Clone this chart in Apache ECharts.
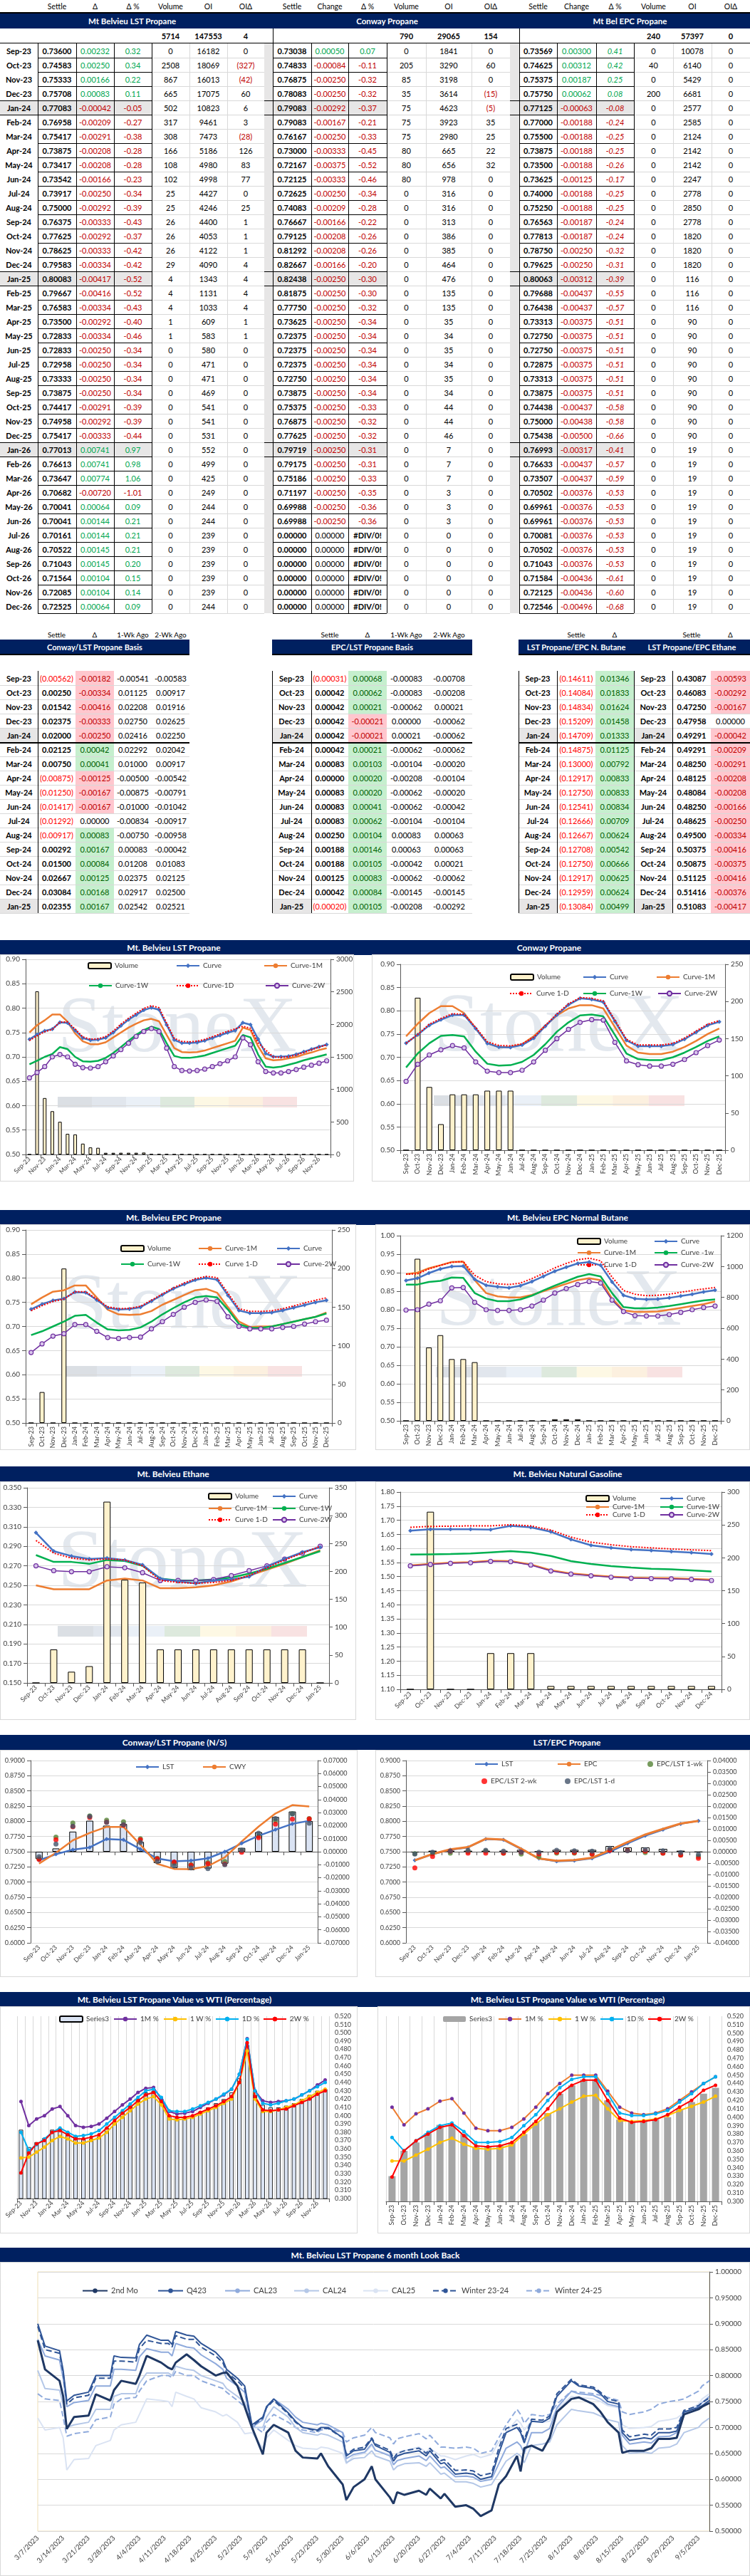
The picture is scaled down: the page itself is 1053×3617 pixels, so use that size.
<!DOCTYPE html>
<html><head><meta charset="utf-8">
<script src="https://cdn.jsdelivr.net/npm/echarts@6/dist/echarts.min.js"></script>
<style>
body{margin:0;background:#fff;width:1053px;height:3617px;position:relative;font-family:Lato,"Liberation Sans",sans-serif;overflow:hidden}
.c{position:absolute;box-sizing:border-box;display:flex;align-items:center;justify-content:center;white-space:nowrap;font-size:11px;line-height:1;color:#000}
</style></head><body>
<script>
// ================= DATA =================
const months40=['Sep-23','Oct-23','Nov-23','Dec-23','Jan-24','Feb-24','Mar-24','Apr-24','May-24','Jun-24','Jul-24','Aug-24','Sep-24','Oct-24','Nov-24','Dec-24','Jan-25','Feb-25','Mar-25','Apr-25','May-25','Jun-25','Jul-25','Aug-25','Sep-25','Oct-25','Nov-25','Dec-25','Jan-26','Feb-26','Mar-26','Apr-26','May-26','Jun-26','Jul-26','Aug-26','Sep-26','Oct-26','Nov-26','Dec-26'];
const months28=months40.slice(0,28), months17=months40.slice(0,17), months16=months40.slice(0,16);

// Mt Belvieu LST Propane table
const lstTotals=[5714,147553,4];
const lstSettle=[0.73600,0.74583,0.75333,0.75708,0.77083,0.76958,0.75417,0.73875,0.73417,0.73542,0.73917,0.75000,0.76375,0.77625,0.78625,0.79583,0.80083,0.79667,0.76583,0.73500,0.72833,0.72833,0.72958,0.73333,0.73875,0.74417,0.74958,0.75417,0.77013,0.76613,0.73647,0.70682,0.70041,0.70041,0.70161,0.70522,0.71043,0.71564,0.72085,0.72525];
const lstChg=[0.00232,0.00250,0.00166,0.00083,-0.00042,-0.00209,-0.00291,-0.00208,-0.00208,-0.00166,-0.00250,-0.00292,-0.00333,-0.00292,-0.00333,-0.00334,-0.00417,-0.00416,-0.00334,-0.00292,-0.00334,-0.00250,-0.00250,-0.00250,-0.00250,-0.00291,-0.00292,-0.00333,0.00741,0.00741,0.00774,-0.00720,0.00064,0.00144,0.00144,0.00145,0.00145,0.00104,0.00104,0.00064];
const lstPct=[0.32,0.34,0.22,0.11,-0.05,-0.27,-0.38,-0.28,-0.28,-0.23,-0.34,-0.39,-0.43,-0.37,-0.42,-0.42,-0.52,-0.52,-0.43,-0.40,-0.46,-0.34,-0.34,-0.34,-0.34,-0.39,-0.39,-0.44,0.97,0.98,1.06,-1.01,0.09,0.21,0.21,0.21,0.20,0.15,0.14,0.09];
const lstVol=[0,2508,867,665,502,317,308,166,108,102,25,25,26,26,26,29,4,4,4,1,1,0,0,0,0,0,0,0,0,0,0,0,0,0,0,0,0,0,0,0];
const lstOI=[16182,18069,16013,17075,10823,9461,7473,5186,4980,4998,4427,4246,4400,4053,4122,4090,1343,1131,1033,609,583,580,471,471,469,541,541,531,552,499,425,249,244,244,239,239,239,239,239,244];
const lstOIChg=[0,-327,-42,60,6,3,-28,126,83,77,0,25,1,1,1,4,4,4,4,1,1,0,0,0,0,0,0,0,0,0,0,0,0,0,0,0,0,0,0,0];

// Conway Propane table
const conTotals=[790,29065,154];
const conSettle=[0.73038,0.74833,0.76875,0.78083,0.79083,0.79083,0.76167,0.73000,0.72167,0.72125,0.72625,0.74083,0.76667,0.79125,0.81292,0.82667,0.82438,0.81875,0.77750,0.73625,0.72375,0.72375,0.72375,0.72750,0.73875,0.75375,0.76875,0.77625,0.79719,0.79175,0.75186,0.71197,0.69988,0.69988,0,0,0,0,0,0];
const conChg=[0.00050,-0.00084,-0.00250,-0.00250,-0.00292,-0.00167,-0.00250,-0.00333,-0.00375,-0.00333,-0.00250,-0.00209,-0.00166,-0.00208,-0.00208,-0.00166,-0.00250,-0.00250,-0.00250,-0.00250,-0.00250,-0.00250,-0.00250,-0.00250,-0.00250,-0.00250,-0.00250,-0.00250,-0.00250,-0.00250,-0.00250,-0.00250,-0.00250,-0.00250,0,0,0,0,0,0];
const conPct=[0.07,-0.11,-0.32,-0.32,-0.37,-0.21,-0.33,-0.45,-0.52,-0.46,-0.34,-0.28,-0.22,-0.26,-0.26,-0.20,-0.30,-0.30,-0.32,-0.34,-0.34,-0.34,-0.34,-0.34,-0.34,-0.33,-0.32,-0.32,-0.31,-0.31,-0.33,-0.35,-0.36,-0.36,null,null,null,null,null,null];
const conVol=[0,205,85,35,75,75,75,80,80,80,0,0,0,0,0,0,0,0,0,0,0,0,0,0,0,0,0,0,0,0,0,0,0,0,0,0,0,0,0,0];
const conOI=[1841,3290,3198,3614,4623,3923,2980,665,656,978,316,316,313,386,385,464,476,135,135,35,34,35,34,35,34,44,44,46,7,7,7,3,3,3,0,0,0,0,0,0];
const conOIChg=[0,60,0,-15,-5,35,25,22,32,0,0,0,0,0,0,0,0,0,0,0,0,0,0,0,0,0,0,0,0,0,0,0,0,0,0,0,0,0,0,0];

// Mt Bel EPC Propane table
const epcTotals=[240,57397,0];
const epcSettle=[0.73569,0.74625,0.75375,0.75750,0.77125,0.77000,0.75500,0.73875,0.73500,0.73625,0.74000,0.75250,0.76563,0.77813,0.78750,0.79625,0.80063,0.79688,0.76438,0.73313,0.72750,0.72750,0.72875,0.73313,0.73875,0.74438,0.75000,0.75438,0.76993,0.76633,0.73507,0.70502,0.69961,0.69961,0.70081,0.70502,0.71043,0.71584,0.72125,0.72546];
const epcChg=[0.00300,0.00312,0.00187,0.00062,-0.00063,-0.00188,-0.00188,-0.00188,-0.00188,-0.00125,-0.00188,-0.00188,-0.00187,-0.00187,-0.00250,-0.00250,-0.00312,-0.00437,-0.00437,-0.00375,-0.00375,-0.00375,-0.00375,-0.00375,-0.00375,-0.00437,-0.00438,-0.00500,-0.00317,-0.00437,-0.00437,-0.00376,-0.00376,-0.00376,-0.00376,-0.00376,-0.00376,-0.00436,-0.00436,-0.00496];
const epcPct=[0.41,0.42,0.25,0.08,-0.08,-0.24,-0.25,-0.25,-0.26,-0.17,-0.25,-0.25,-0.24,-0.24,-0.32,-0.31,-0.39,-0.55,-0.57,-0.51,-0.51,-0.51,-0.51,-0.51,-0.51,-0.58,-0.58,-0.66,-0.41,-0.57,-0.59,-0.53,-0.53,-0.53,-0.53,-0.53,-0.53,-0.61,-0.60,-0.68];
const epcVol=[0,40,0,200,0,0,0,0,0,0,0,0,0,0,0,0,0,0,0,0,0,0,0,0,0,0,0,0,0,0,0,0,0,0,0,0,0,0,0,0];
const epcOI=[10078,6140,5429,6681,2577,2585,2124,2142,2142,2247,2778,2850,2778,1820,1820,1820,116,116,116,90,90,90,90,90,90,90,90,90,19,19,19,19,19,19,19,19,19,19,19,19];
const epcOIChg=[0,0,0,0,0,0,0,0,0,0,0,0,0,0,0,0,0,0,0,0,0,0,0,0,0,0,0,0,0,0,0,0,0,0,0,0,0,0,0,0];

// Basis tables
const cwBasis=[-0.00562,0.00250,0.01542,0.02375,0.02000,0.02125,0.00750,-0.00875,-0.01250,-0.01417,-0.01292,-0.00917,0.00292,0.01500,0.02667,0.03084,0.02355];
const cwBasisChg=[-0.00182,-0.00334,-0.00416,-0.00333,-0.00250,0.00042,0.00041,-0.00125,-0.00167,-0.00167,0.00000,0.00083,0.00167,0.00084,0.00125,0.00168,0.00167];
const cwBasis1W=[-0.00541,0.01125,0.02208,0.02750,0.02416,0.02292,0.01000,-0.00500,-0.00875,-0.01000,-0.00834,-0.00750,0.00083,0.01208,0.02375,0.02917,0.02542];
const cwBasis2W=[-0.00583,0.00917,0.01916,0.02625,0.02250,0.02042,0.00917,-0.00542,-0.00791,-0.01042,-0.00917,-0.00958,-0.00042,0.01083,0.02125,0.02500,0.02521];
const epBasis=[-0.00031,0.00042,0.00042,0.00042,0.00042,0.00042,0.00083,0.00000,0.00083,0.00083,0.00083,0.00250,0.00188,0.00188,0.00125,0.00042,-0.00020];
const epBasisChg=[0.00068,0.00062,0.00021,-0.00021,-0.00021,0.00021,0.00103,0.00020,0.00020,0.00041,0.00062,0.00104,0.00146,0.00105,0.00083,0.00084,0.00105];
const epBasis1W=[-0.00083,-0.00083,-0.00062,0.00000,0.00021,-0.00062,-0.00104,-0.00208,-0.00062,-0.00062,-0.00104,0.00083,0.00063,-0.00042,-0.00062,-0.00145,-0.00208];
const epBasis2W=[-0.00708,-0.00208,0.00021,-0.00062,-0.00062,-0.00062,-0.00020,-0.00104,-0.00020,-0.00042,-0.00104,0.00063,0.00063,0.00021,-0.00062,-0.00145,-0.00292];
const nbRatio=[-0.14611,-0.14084,-0.14834,-0.15209,-0.14709,-0.14875,-0.13000,-0.12917,-0.12750,-0.12541,-0.12666,-0.12667,-0.12708,-0.12750,-0.12917,-0.12959,-0.13084];
const nbRatioChg=[0.01346,0.01833,0.01624,0.01458,0.01333,0.01125,0.00792,0.00833,0.00833,0.00834,0.00709,0.00624,0.00542,0.00666,0.00625,0.00624,0.00499];
const ethRatio=[0.43087,0.46083,0.47250,0.47958,0.49291,0.49291,0.48250,0.48125,0.48084,0.48250,0.48625,0.49500,0.50375,0.50875,0.51125,0.51416,0.51083];
const ethRatioChg=[-0.00593,-0.00292,-0.00167,0.00000,-0.00042,-0.00209,-0.00291,-0.00208,-0.00208,-0.00166,-0.00250,-0.00334,-0.00416,-0.00375,-0.00416,-0.00376,-0.00417];

// Chart: Mt. Belvieu LST Propane curves
const lst1M=[.750,.765,.775,.787,.787,.772,.748,.732,.726,.726,.730,.740,.750,.760,.768,.775,.778,.773,.745,.718,.710,.709,.710,.713,.718,.723,.728,.733,.760,.755,.722,.697,.693,.694,.697,.700,.705,.709,.714,.718];
const lst1W=[.685,.692,.700,.706,.720,.716,.700,.691,.690,.692,.698,.708,.720,.733,.745,.755,.762,.757,.728,.702,.698,.698,.700,.703,.708,.713,.718,.723,.745,.740,.705,.680,.678,.680,.684,.688,.693,.697,.701,.705];
const lst2W=[.657,.668,.680,.700,.705,.700,.685,.678,.677,.680,.690,.702,.715,.728,.742,.752,.758,.752,.718,.680,.672,.671,.672,.675,.680,.686,.692,.700,.739,.725,.690,.670,.667,.667,.670,.674,.679,.683,.687,.692];
// Conway Propane curves
const con1M=[.745,.772,.795,.810,.810,.795,.762,.730,.722,.722,.728,.745,.768,.790,.805,.812,.812,.805,.765,.725,.710,.707,.707,.712,.722,.735,.750,.762];
const con1W=[.678,.708,.730,.746,.748,.745,.712,.686,.682,.683,.690,.705,.728,.755,.775,.790,.792,.788,.748,.708,.696,.694,.694,.700,.710,.722,.735,.745];
const con2W=[.648,.685,.705,.716,.725,.720,.690,.670,.667,.667,.672,.690,.715,.740,.760,.775,.781,.780,.732,.692,.684,.681,.681,.685,.695,.710,.725,.737];
// EPC Propane curves
const epc1M=[.746,.760,.772,.775,.785,.785,.760,.735,.725,.724,.725,.732,.745,.755,.765,.775,.778,.770,.740,.710,.699,.700,.700,.705,.710,.715,.720,.729];
const epc1W=[.682,.690,.700,.710,.722,.724,.708,.694,.692,.693,.698,.710,.725,.738,.750,.760,.763,.760,.735,.705,.697,.697,.700,.705,.710,.715,.720,.727];
const epc2W=[.646,.664,.680,.685,.704,.704,.690,.677,.675,.677,.678,.695,.710,.725,.740,.750,.755,.752,.720,.700,.695,.695,.695,.698,.700,.705,.710,.713];
// EPC Normal Butane
const nbVol=[0,1050,475,555,400,400,380,0,0,0,0,0,0,10,10,10,0,0,0,0,0,0,0,0,0,0,0,0];
const nbCurve=[.879,.885,.899,.910,.917,.918,.882,.866,.862,.859,.865,.876,.890,.904,.915,.925,.929,.920,.875,.839,.830,.828,.829,.832,.837,.842,.848,.853];
const nb1D=[.896,.897,.910,.920,.928,.930,.893,.876,.870,.868,.872,.884,.898,.913,.925,.935,.939,.932,.888,.852,.842,.838,.839,.842,.847,.852,.856,.860];
const nb1M=[.896,.900,.912,.920,.929,.930,.880,.845,.836,.833,.833,.840,.850,.860,.870,.880,.885,.880,.830,.798,.794,.794,.795,.800,.805,.810,.815,.822];
const nb1W=[.868,.868,.875,.878,.887,.886,.845,.830,.823,.823,.828,.838,.852,.865,.877,.889,.896,.890,.845,.807,.804,.804,.806,.810,.815,.820,.825,.828];
const nb2W=[.799,.800,.815,.824,.859,.860,.820,.800,.798,.798,.800,.810,.826,.845,.857,.868,.876,.872,.826,.795,.784,.783,.783,.787,.793,.800,.806,.810];
// Ethane
const ethVol=[0,60,20,30,325,185,180,60,60,60,60,60,60,60,60,60,0];
const ethCurve=[.304,.285,.280,.277,.278,.276,.271,.257,.254,.252,.255,.256,.259,.269,.277,.284,.289];
const eth1D=[.296,.283,.278,.276,.277,.276,.270,.255,.253,.252,.253,.255,.260,.268,.276,.283,.290];
const eth1M=[.250,.246,.246,.246,.255,.257,.255,.247,.247,.248,.250,.254,.260,.266,.272,.279,.286];
const eth1W=[.281,.274,.274,.272,.276,.275,.270,.257,.255,.255,.256,.258,.262,.267,.273,.279,.285];
const eth2W=[.270,.265,.264,.264,.269,.268,.263,.255,.255,.255,.256,.260,.265,.270,.277,.283,.290];
// Natural Gasoline
const ngVol=[0,270,0,0,55,55,55,5,5,5,5,5,5,5,5,5];
const ngCurve=[1.663,1.668,1.668,1.668,1.667,1.680,1.675,1.659,1.632,1.611,1.602,1.596,1.593,1.589,1.585,1.580];
const ng1D=[1.675,1.678,1.679,1.680,1.680,1.684,1.680,1.665,1.640,1.622,1.613,1.606,1.602,1.598,1.595,1.592];
const ng1M=[1.540,1.545,1.549,1.551,1.556,1.555,1.543,1.523,1.511,1.505,1.500,1.496,1.495,1.494,1.492,1.489];
const ng1W=[1.578,1.579,1.580,1.582,1.586,1.590,1.585,1.573,1.555,1.545,1.537,1.532,1.528,1.526,1.522,1.518];
const ng2W=[1.538,1.543,1.547,1.549,1.554,1.553,1.541,1.520,1.509,1.503,1.498,1.494,1.493,1.492,1.490,1.486];
// LST value vs WTI (40 months)
const wtiBar=[.383,.362,.368,.373,.383,.385,.380,.375,.372,.372,.375,.385,.393,.405,.412,.420,.428,.430,.420,.400,.398,.398,.400,.405,.410,.415,.420,.428,.445,.485,.430,.413,.410,.410,.412,.415,.420,.425,.430,.432];
const wti1M=[.417,.388,.396,.400,.408,.411,.400,.388,.386,.387,.390,.397,.405,.413,.420,.428,.433,.434,.420,.405,.402,.403,.405,.410,.415,.420,.425,.432,.450,.493,.430,.418,.416,.417,.418,.420,.425,.430,.437,.443];
const wti1W=[.349,.350,.356,.362,.370,.375,.372,.367,.367,.370,.373,.380,.390,.398,.406,.414,.420,.423,.413,.396,.395,.396,.398,.402,.406,.410,.415,.420,.440,.478,.420,.405,.405,.407,.410,.413,.418,.423,.428,.432];
const wti1D=[.380,.358,.365,.372,.380,.385,.380,.375,.376,.378,.382,.390,.398,.406,.414,.422,.430,.432,.422,.406,.405,.405,.408,.412,.416,.420,.426,.432,.450,.492,.430,.415,.413,.415,.418,.420,.425,.430,.435,.440];
const wti2W=[.331,.355,.366,.370,.380,.382,.377,.372,.372,.374,.377,.385,.394,.403,.410,.418,.425,.428,.417,.400,.398,.398,.400,.404,.408,.412,.417,.423,.440,.488,.423,.407,.406,.407,.408,.412,.416,.420,.426,.430];
// LST value vs WTI (28 months)
const wtbBar=[.330,.360,.370,.381,.391,.391,.380,.365,.365,.366,.370,.380,.394,.405,.428,.438,.445,.445,.420,.397,.395,.395,.397,.400,.410,.418,.428,.435];
const wtb1M=[.412,.391,.404,.410,.419,.422,.405,.387,.384,.384,.388,.398,.412,.428,.440,.450,.450,.450,.431,.412,.405,.403,.405,.410,.420,.430,.440,.448];
const wtb1W=[.348,.348,.355,.362,.370,.375,.368,.363,.362,.363,.367,.380,.392,.403,.410,.418,.425,.426,.410,.396,.395,.396,.398,.402,.408,.413,.418,.425];
const wtb1D=[.376,.360,.372,.382,.390,.393,.383,.370,.370,.371,.376,.390,.403,.420,.435,.445,.448,.448,.428,.405,.402,.402,.404,.408,.418,.428,.440,.448];
const wtb2W=[.329,.360,.372,.380,.388,.391,.378,.366,.365,.366,.370,.382,.395,.410,.428,.438,.444,.444,.420,.399,.394,.395,.397,.403,.412,.420,.432,.438];
// 6 month look back
const lbDates=['3/7','3/9','3/13','3/14','3/15','3/17','3/21','3/23','3/27','3/28','3/30','4/3','4/4','4/6','4/10','4/12','4/13','4/14','4/17','4/19','4/21','4/25','4/27','4/28','5/1','5/3','5/5','5/8','5/9','5/11','5/15','5/17','5/19','5/23','5/24','5/26','5/30','5/31','6/2','6/5','6/7','6/8','6/12','6/13','6/14','6/16','6/20','6/22','6/23','6/26','6/27','6/30','7/3','7/5','7/7','7/10','7/12','7/14','7/17','7/18','7/19','7/21','7/24','7/26','7/28','8/1','8/3','8/7','8/9','8/11','8/14','8/15','8/17','8/21','8/23','8/25','8/28','8/30','9/1','9/5','9/6','9/8'];
const lb2ndMo=[.868,.812,.790,.760,.697,.720,.723,.764,.752,.772,.790,.784,.800,.838,.825,.815,.812,.825,.841,.830,.818,.800,.805,.806,.780,.740,.700,.648,.690,.705,.690,.655,.642,.640,.650,.625,.590,.560,.585,.600,.625,.600,.565,.553,.575,.570,.578,.570,.582,.563,.572,.547,.550,.543,.529,.540,.590,.606,.645,.615,.660,.665,.655,.680,.730,.755,.758,.745,.730,.710,.690,.651,.655,.655,.660,.678,.678,.680,.725,.735,.740,.747];
const lbQ423=[.900,.857,.848,.810,.751,.762,.768,.800,.800,.838,.835,.834,.860,.878,.868,.868,.860,.885,.878,.876,.862,.845,.830,.812,.795,.780,.705,.720,.740,.755,.728,.712,.700,.695,.700,.700,.680,.645,.655,.658,.678,.665,.652,.635,.645,.650,.655,.645,.655,.630,.632,.610,.612,.610,.600,.605,.650,.690,.700,.690,.670,.712,.710,.718,.760,.790,.780,.775,.765,.750,.745,.690,.675,.680,.678,.690,.690,.693,.730,.738,.742,.752];
const lbW2324=[.895,.850,.843,.805,.745,.757,.762,.795,.795,.828,.828,.826,.852,.868,.862,.862,.855,.877,.870,.870,.855,.838,.825,.806,.790,.775,.702,.718,.738,.752,.726,.710,.700,.693,.698,.698,.680,.648,.658,.662,.680,.668,.656,.640,.650,.655,.660,.650,.660,.636,.638,.617,.618,.616,.607,.612,.660,.698,.706,.695,.676,.716,.714,.722,.765,.793,.782,.778,.768,.755,.750,.695,.682,.687,.685,.697,.697,.700,.733,.742,.748,.757];
const lbCAL23=[.870,.838,.830,.795,.740,.748,.752,.780,.780,.812,.812,.810,.836,.852,.845,.845,.838,.862,.855,.853,.840,.823,.812,.795,.780,.768,.700,.715,.738,.755,.735,.720,.710,.705,.708,.705,.690,.640,.648,.652,.668,.656,.645,.628,.636,.640,.645,.636,.645,.622,.624,.605,.606,.604,.596,.600,.630,.660,.672,.665,.650,.690,.690,.698,.738,.770,.765,.762,.755,.745,.740,.685,.668,.672,.670,.682,.683,.690,.728,.740,.748,.760];
const lbCAL24=[.810,.775,.772,.745,.700,.705,.710,.735,.735,.760,.765,.765,.785,.805,.805,.805,.800,.818,.812,.810,.800,.790,.785,.775,.760,.748,.700,.700,.720,.740,.720,.700,.690,.685,.688,.685,.672,.632,.640,.642,.655,.645,.635,.618,.625,.630,.632,.625,.632,.610,.612,.595,.595,.592,.585,.590,.612,.635,.650,.645,.632,.665,.668,.672,.705,.735,.732,.728,.722,.715,.710,.665,.650,.652,.650,.660,.662,.668,.690,.700,.708,.718];
const lbCAL25=[.718,.695,.700,.680,.618,.638,.640,.665,.675,.695,.705,.710,.725,.755,.752,.750,.740,.768,.760,.755,.738,.730,.722,.725,.710,.688,.690,.660,.680,.695,.675,.665,.660,.658,.662,.660,.650,.630,.645,.650,.665,.655,.648,.640,.650,.655,.662,.652,.660,.645,.645,.638,.645,.648,.642,.648,.672,.690,.715,.708,.695,.712,.710,.712,.735,.760,.758,.755,.750,.742,.738,.705,.698,.700,.702,.712,.715,.718,.728,.745,.755,.765];
const lbW2425=[.765,.755,.752,.720,.683,.688,.692,.715,.720,.745,.755,.758,.770,.790,.800,.800,.796,.808,.800,.800,.790,.780,.775,.768,.752,.740,.705,.690,.710,.725,.710,.700,.695,.690,.695,.698,.690,.672,.680,.685,.700,.690,.680,.668,.678,.682,.688,.678,.685,.662,.662,.660,.662,.660,.650,.655,.680,.705,.735,.725,.708,.725,.722,.725,.745,.770,.768,.765,.762,.758,.752,.730,.725,.730,.735,.745,.750,.752,.755,.770,.780,.790];

// ================= HELPERS =================
function box(x,y,w,h,css,txt){const d=document.createElement('div');d.className='c';d.style.cssText=`left:${x}px;top:${y}px;width:${w}px;height:${h}px;`+(css||'');if(txt!=null)d.textContent=txt;document.body.appendChild(d);return d;}
function hl(x1,x2,y,c,t){box(x1,y,x2-x1,t||1,'background:'+c);}
function vl(x,y1,y2,c,t){box(x,y1,t||1,y2-y1,'background:'+c);}
const GREEN='#00a650',RED='#c00000';
const sc=v=>v>0?GREEN:(v<0?RED:'#000');

// ================= TOP TABLES =================
hl(0,1053,17,'#000',2);
box(0,19,1053,21,'background:#002060');
hl(0,1053,60,'#000',1);
const TT=[
 {name:'Mt Belvieu LST Propane',e:[53,107,160,213,266,319,371],strip:null,h:['Settle','Δ','Δ %','Volume','OI','OIΔ'],s:lstSettle,c:lstChg,p:lstPct,v:lstVol,o:lstOI,od:lstOIChg,tot:lstTotals,it:false},
 {name:'Conway Propane',e:[383,437,489,543,598,662,716],strip:[371,383],h:['Settle','Change','Δ %','Volume','OI','OIΔ'],s:conSettle,c:conChg,p:conPct,v:conVol,o:conOI,od:conOIChg,tot:conTotals,it:false},
 {name:'Mt Bel EPC Propane',e:[729,782,837,890,945,999,1053],strip:[716,729],h:['Settle','Change','Δ %','Volume','OI','OIΔ'],s:epcSettle,c:epcChg,p:epcPct,v:epcVol,o:epcOI,od:epcOIChg,tot:epcTotals,it:true}
];
const JAN=[4,16,28];
TT.forEach(t=>{
 const e=t.e,y0=61,bot=861,sx=t.strip?t.strip[0]:0;
 box(t.strip?t.strip[0]:0,19,e[6]-(t.strip?t.strip[0]:0),21,'color:#fff;font-weight:bold;font-size:11.5px',t.name);
 if(t.strip)box(t.strip[0],y0,t.strip[1]-t.strip[0],800,'background:#e7e6e6');
 JAN.forEach(i=>box(sx,y0+20*i,e[3]-sx,20,'background:#e7e6e6'));
 for(let k=1;k<=40;k++){hl(e[0],e[3],y0+20*k,'#000');hl(e[3],e[6],y0+20*k,'#d9d9d9');}
 JAN.forEach(i=>{hl(sx,e[0],y0+20*i,'#000');hl(sx,e[0],y0+20*i+20,'#000');});
 [0,1,2,3].forEach(j=>vl(e[j],(t.strip&&j===0)?40:y0,bot,'#000'));
 [4,5].forEach(j=>vl(e[j],y0,bot,'#d9d9d9'));
 t.h.forEach((h,j)=>box(e[j],2,e[j+1]-e[j],15,'font-size:10.5px',h));
 t.tot.forEach((v,j)=>box(e[3+j],41,e[4+j]-e[3+j],19,'font-weight:bold',String(v)));
 for(let i=0;i<40;i++){
  const y=y0+20*i+1,h=19;
  if(!t.strip)box(0,y,53,h,'font-weight:bold',months40[i]);
  box(e[0],y,e[1]-e[0],h,'font-weight:bold',t.s[i].toFixed(5));
  box(e[1],y,e[2]-e[1],h,'color:'+sc(t.c[i]),t.c[i].toFixed(5));
  const p=t.p[i];
  if(p===null)box(e[2],y,e[3]-e[2],h,'font-weight:bold','#DIV/0!');
  else box(e[2],y,e[3]-e[2],h,'color:'+sc(p)+(t.it?';font-style:italic':''),p.toFixed(2));
  box(e[3],y,e[4]-e[3],h,'',String(t.v[i]));
  box(e[4],y,e[5]-e[4],h,'',String(t.o[i]));
  const od=t.od[i];
  box(e[5],y,e[6]-e[5],h,od<0?'color:'+RED:'',od<0?'('+(-od)+')':String(od));
 }
});

// ================= BASIS TABLES =================
function basis(dx1,dx2,cols){
 const y0=942,N=17,x2=cols[cols.length-1].x2;
 [4,16].forEach(i=>box(dx1,y0+20*i,dx2-dx1,20,'background:#e7e6e6'));
 cols.forEach(c=>{if(c.kind==='delta')c.vals.forEach((v,i)=>{if(v!==0)box(c.x1,y0+20*i,c.x2-c.x1,20,'background:'+(v>0?'#c6efce':'#ffc7ce'))})});
 for(let k=1;k<=N;k++)hl(dx1,x2,y0+20*k,'#d9d9d9');
 hl(dx1,x2,y0+100,'#000',2);
 vl(dx2,y0,y0+340,'#000');
 if(dx1>0)vl(dx1,y0,y0+340,'#000');
 for(let i=0;i<N;i++){
  const y=y0+20*i+1;
  box(dx1,y,dx2-dx1,19,'font-weight:bold',months17[i]);
  cols.forEach(c=>{const v=c.vals[i];let t,css='';
   if(c.kind==='settle'){if(v<0){t='('+(-v).toFixed(5)+')';css='color:#ff0000'}else{t=v.toFixed(5);css='font-weight:bold'}}
   else if(c.kind==='delta'){t=v.toFixed(5);css='color:'+(v>0?'#006100':v<0?'#c00000':'#000')}
   else t=v.toFixed(5);
   box(c.x1,y,c.x2-c.x1,19,css,t);});
 }
}
const bh=(x1,x2,t)=>box(x1,884,x2-x1,14,'font-size:10px',t);
function btitle(x1,x2,t){box(x1,898,x2-x1,20,'background:#002060;color:#fff;font-weight:bold;font-size:11px',t);}
btitle(0,266,'Conway/LST Propane Basis');hl(0,266,918,'#000',2);
btitle(382,663,'EPC/LST Propane Basis');hl(382,663,918,'#000',2);
btitle(728,890,'LST Propane/EPC N. Butane');btitle(890,1053,'LST Propane/EPC Ethane');hl(728,1053,918,'#000',2);
[[53,106,'Settle'],[106,160,'Δ'],[160,213,'1-Wk Ago'],[213,266,'2-Wk Ago'],[437,489,'Settle'],[489,543,'Δ'],[543,598,'1-Wk Ago'],[598,663,'2-Wk Ago'],[782,836,'Settle'],[836,890,'Δ'],[944,998,'Settle'],[998,1053,'Δ']].forEach(a=>bh(a[0],a[1],a[2]));
basis(0,53,[{x1:53,x2:106,kind:'settle',vals:cwBasis},{x1:106,x2:160,kind:'delta',vals:cwBasisChg},{x1:160,x2:213,kind:'plain',vals:cwBasis1W},{x1:213,x2:266,kind:'plain',vals:cwBasis2W}]);
basis(382,437,[{x1:437,x2:489,kind:'settle',vals:epBasis},{x1:489,x2:543,kind:'delta',vals:epBasisChg},{x1:543,x2:598,kind:'plain',vals:epBasis1W},{x1:598,x2:663,kind:'plain',vals:epBasis2W}]);
basis(728,782,[{x1:782,x2:836,kind:'settle',vals:nbRatio},{x1:836,x2:890,kind:'delta',vals:nbRatioChg}]);
basis(890,944,[{x1:944,x2:998,kind:'settle',vals:ethRatio},{x1:998,x2:1053,kind:'delta',vals:ethRatioChg}]);

// ================= CHART TITLE BARS =================
[[1320,[['Mt. Belvieu LST Propane',244],['Conway Propane',771]]],
 [1699,[['Mt. Belvieu EPC Propane',244],['Mt. Belvieu EPC Normal Butane',797]]],
 [2059,[['Mt. Belvieu Ethane',243],['Mt. Belvieu Natural Gasoline',797]]],
 [2436,[['Conway/LST Propane (N/S)',245],['LST/EPC Propane',796]]],
 [2797,[['Mt. Belvieu LST Propane Value vs WTI (Percentage)',245],['Mt. Belvieu LST Propane Value vs WTI (Percentage)',797]]],
 [3156,[['Mt. Belvieu LST Propane 6 month Look Back',527]]]
].forEach(([y,ts])=>{box(0,y,1053,21,'background:#002060');ts.forEach(([t,cx])=>box(cx-200,y,400,21,'color:#fff;font-weight:bold;font-size:12px',t));});

// ================= CHARTS =================
function chart(x,y,w,h,opt){
 const d=document.createElement('div');
 d.style.cssText=`position:absolute;left:${x}px;top:${y}px;width:${w}px;height:${h}px;border:1px solid #d9d9d9;box-sizing:border-box;background:#fff`;
 document.body.appendChild(d);
 const c=echarts.init(d,null,{renderer:'canvas'});
 opt.animation=false;opt.textStyle={fontFamily:'Lato, sans-serif'};
 if(opt.grid)opt.grid.outerBoundsMode='none';
 c.setOption(opt);return c;
}
const LC='#595959';
const LBL={fontSize:10,color:'#404040',fontFamily:'Lato, sans-serif'};
function catX(data,interval,rotate,fs,extra){return Object.assign({type:'category',data,axisLabel:Object.assign({},LBL,{interval,rotate,fontSize:fs||9,margin:5}),axisTick:{show:true,interval,lineStyle:{color:LC}},axisLine:{show:true,lineStyle:{color:LC}},splitLine:{show:false}},extra||{});}
function valY(min,max,step,dec,pos,split,extra,fs){return Object.assign({type:'value',min,max,interval:step,position:pos||'left',axisLabel:Object.assign({},LBL,{fontSize:fs||10,formatter:v=>v.toFixed(dec)}),axisLine:{show:true,lineStyle:{color:LC}},axisTick:{show:true,lineStyle:{color:LC}},splitLine:{show:!!split,lineStyle:{color:'#d9d9d9'}}},extra||{});}
function legs(items,o){o=o||{};return items.map(([n,x,y,icon])=>({data:[icon?{name:n,icon:icon}:n],left:x,top:y,padding:0,itemGap:0,itemWidth:icon?8:(o.w||32),itemHeight:8,selectedMode:false,textStyle:{fontSize:o.fs||10,color:'#404040',fontFamily:'Lato, sans-serif'}}));}
const BAND=['#b8bfc9','#c3cddb','#d6e2f0','#bcd4bc','#fbf1c9','#f9e2c0','#f2c6c6'];
function wmark(x,y,w,by){
 const g=[{type:'text',left:x,top:y,z:-10,silent:true,style:{text:'StoneX',fontSize:Math.round(w/3),fontFamily:'"Liberation Serif","DejaVu Serif",serif',fill:'rgba(175,188,205,0.35)'}}];
 const sw=w/7;BAND.forEach((c,i)=>g.push({type:'rect',left:x+i*sw,top:by,z:-10,silent:true,shape:{width:sw,height:15},style:{fill:c,opacity:0.5}}));
 return g;
}
const S={
 vol:(d,w)=>({name:'Volume',type:'bar',yAxisIndex:1,data:d,barWidth:w,itemStyle:{color:'#fff2cc',borderColor:'#000',borderWidth:1},z:1}),
 curve:(d)=>({name:'Curve',type:'line',data:d,symbol:'diamond',symbolSize:6,lineStyle:{width:2.5,color:'#4472c4'},itemStyle:{color:'#4472c4'},z:5}),
 m1:(d)=>({name:'Curve-1M',type:'line',data:d,symbol:'none',lineStyle:{width:2.5,color:'#ed7d31'},itemStyle:{color:'#ed7d31'},z:3}),
 w1:(d,n)=>({name:n||'Curve-1W',type:'line',data:d,symbol:'none',lineStyle:{width:2.5,color:'#00b050'},itemStyle:{color:'#00b050'},z:3}),
 d1:(d,n)=>({name:n,type:'line',data:d,symbol:'none',lineStyle:{width:2,color:'#ff0000',type:'dotted'},itemStyle:{color:'#ff0000'},z:6}),
 w2:(d)=>({name:'Curve-2W',type:'line',data:d,symbol:'circle',symbolSize:6,lineStyle:{width:1.5,color:'#7030a0'},itemStyle:{color:'#d9c6ec',borderColor:'#7030a0',borderWidth:1.2},z:4})
};
// prior-day settle = settle − change (both from the tables)
const prev=(s,c)=>s.map((v,i)=>+(v-c[i]).toFixed(5));

// 1 Mt. Belvieu LST Propane
chart(0,1340,497,319,{grid:{left:35,right:32,top:6,bottom:37},
 legend:legs([['Volume',122,10],['Curve',246,10],['Curve-1M',369,10],['Curve-1W',123,38],['Curve-1D',246,38],['Curve-2W',371,38]]),
 graphic:wmark(80,50,336,199),
 xAxis:catX(months40,1,45,9),
 yAxis:[valY(0.5,0.9,0.05,2,'left',true),valY(0,3000,500,0,'right',false)],
 series:[S.vol(lstVol,5),S.m1(lst1M),S.w1(lst1W),S.w2(lst2W),S.curve(lstSettle),S.d1(prev(lstSettle,lstChg),'Curve-1D')]});
// 2 Conway Propane
chart(522,1340,531,319,{grid:{left:39,right:34,top:13,bottom:43},
 legend:legs([['Volume',193,26],['Curve',295,26],['Curve-1M',398,26],['Curve 1-D',192,49],['Curve-1W',295,49],['Curve-2W',400,49]]),
 graphic:wmark(86,45,352,197),
 xAxis:catX(months28,0,90,9),
 yAxis:[valY(0.5,0.9,0.05,2,'left',true),valY(0,250,50,0,'right',false)],
 series:[S.vol(conVol.slice(0,28),8),S.m1(con1M),S.w1(con1W),S.w2(con2W),S.curve(conSettle.slice(0,28)),S.d1(prev(conSettle.slice(0,28),conChg),'Curve 1-D')]});
// 3 EPC Propane
chart(0,1719,500,317,{grid:{left:35,right:33,top:7,bottom:37},
 legend:legs([['Volume',168,28],['Curve-1M',277,28],['Curve',387,28],['Curve-1W',168,50],['Curve 1-D',277,50],['Curve-2W',387,50]]),
 graphic:wmark(87,60,336,198),
 xAxis:catX(months28,0,90,9),
 yAxis:[valY(0.5,0.9,0.05,2,'left',true),valY(0,250,50,0,'right',false)],
 series:[S.vol(epcVol.slice(0,28),7),S.m1(epc1M),S.w1(epc1W),S.w2(epc2W),S.curve(epcSettle.slice(0,28)),S.d1(prev(epcSettle.slice(0,28),epcChg),'Curve 1-D')]});
// 4 EPC Normal Butane
chart(527,1719,526,317,{grid:{left:34,right:40,top:15,bottom:40},
 legend:legs([['Volume',282,18],['Curve',390,18],['Curve-1M',282,34],['Curve -1w',390,34],['Curve 1-D',282,51],['Curve-2W',390,51]]),
 graphic:wmark(84,52,346,199),
 xAxis:catX(months28,0,90,9),
 yAxis:[valY(0.5,1.0,0.05,2,'left',true),valY(0,1200,200,0,'right',false)],
 series:[S.vol(nbVol,8),S.m1(nb1M),S.w1(nb1W,'Curve -1w'),S.w2(nb2W),S.curve(nbCurve),S.d1(nb1D,'Curve 1-D')]});
// 5 Ethane
chart(0,2080,500,335,{grid:{left:37,right:37,top:8,bottom:51},
 legend:legs([['Volume',291,15],['Curve',381,15],['Curve-1M',291,32],['Curve-1W',381,32],['Curve 1-D',291,48],['Curve-2W',381,48]]),
 graphic:wmark(80,58,350,202),
 xAxis:catX(months17,0,45,9),
 yAxis:[valY(0.15,0.35,0.02,3,'left',true),valY(0,350,50,0,'right',false)],
 series:[S.vol(ethVol,10),S.m1(eth1M),S.w1(eth1W),S.w2(eth2W),S.curve(ethCurve),S.d1(eth1D,'Curve 1-D')]});
// 6 Natural Gasoline
chart(527,2080,526,335,{grid:{left:34,right:39,top:14,bottom:42},
 legend:legs([['Volume',294,18],['Curve',398,18],['Curve-1M',294,30],['Curve-1W',398,30],['Curve 1-D',294,41],['Curve-2W',398,41]]),
 xAxis:catX(months16,0,45,9),
 yAxis:[valY(1.1,1.8,0.05,2,'left',true),valY(0,300,50,0,'right',false)],
 series:[S.vol(ngVol,10),S.m1(ng1M),S.w1(ng1W),S.w2(ng2W),S.curve(ngCurve),S.d1(ng1D,'Curve 1-D')]});
// 7 Conway/LST Propane (N/S)
const dots=(n,d,c)=>({name:n,type:'scatter',yAxisIndex:1,data:d,symbolSize:7,itemStyle:{color:c},z:6});
chart(0,2457,502,319,{grid:{left:42,right:55,top:14,bottom:47},
 legend:legs([['LST',189,18],['CWY',283,18]]),
 xAxis:catX(months17,0,45,9),
 yAxis:[valY(0.6,0.9,0.025,4,'left',true,null,9),valY(-0.07,0.07,0.01,5,'right',false,null,9)],
 series:[{name:'Conway/LST Basis',type:'bar',yAxisIndex:1,data:cwBasis,barWidth:10,itemStyle:{color:'#dae3f3',borderColor:'#000',borderWidth:1},z:1},
  {name:'LST',type:'line',data:lstSettle.slice(0,17),symbol:'diamond',symbolSize:6,lineStyle:{color:'#4472c4',width:2.5},itemStyle:{color:'#4472c4'},z:3},
  {name:'CWY',type:'line',data:conSettle.slice(0,17),symbol:'none',lineStyle:{color:'#ed7d31',width:2.5},itemStyle:{color:'#ed7d31'},z:3},
  dots('1-Wk Ago',cwBasis1W,'#548235'),dots('2-Wk Ago',cwBasis2W,'#ff0000'),dots('1-d',prev(cwBasis,cwBasisChg),'#44546a')]});
// 8 LST/EPC Propane
chart(527,2457,526,319,{grid:{left:42,right:59,top:14,bottom:47},
 legend:legs([['LST',138,14],['EPC',254,14],['EPC/LST 1-wk',381,14,'circle'],['EPC/LST 2-wk',148,38,'circle'],['EPC/LST 1-d',265,38,'circle']]),
 xAxis:catX(months17,0,45,9),
 yAxis:[valY(0.6,0.9,0.025,4,'left',true,null,9),valY(-0.04,0.04,0.005,5,'right',false,null,9)],
 series:[{name:'EPC/LST Basis',type:'bar',yAxisIndex:1,data:epBasis,barWidth:12,itemStyle:{color:'#fff',borderColor:'#000',borderWidth:1},z:1},
  {name:'LST',type:'line',data:lstSettle.slice(0,17),symbol:'diamond',symbolSize:6,lineStyle:{color:'#4472c4',width:2.5},itemStyle:{color:'#4472c4'},z:3},
  {name:'EPC',type:'line',data:epcSettle.slice(0,17),symbol:'none',lineStyle:{color:'#ed7d31',width:3},itemStyle:{color:'#ed7d31'},z:4},
  dots('EPC/LST 1-wk',epBasis1W,'#548235'),dots('EPC/LST 2-wk',epBasis2W,'#ff0000'),dots('EPC/LST 1-d',prev(epBasis,epBasisChg),'#44546a')]});
// 9/10 value vs WTI
const pl=(n,d,c,mc)=>({name:n,type:'line',data:d,symbol:'circle',symbolSize:5,lineStyle:{color:c,width:2},itemStyle:{color:mc||c},z:3});
const vsplit={splitLine:{show:true,interval:0,lineStyle:{color:'#d9d9d9'}}};
chart(0,2817,502,319,{grid:{left:23,right:39,top:13,bottom:48},
 legend:legs([['Series3',82,12],['1M %',158,12],['1 W %',228,12],['1D %',301,12],['2W %',368,12]]),
 xAxis:catX(months40,1,45,9,vsplit),
 yAxis:valY(0.3,0.52,0.01,3,'right',false,{axisLine:{show:false},axisTick:{show:false}},9),
 series:[{name:'Series3',type:'bar',data:wtiBar,barWidth:6,itemStyle:{color:'#dae3f3',borderColor:'#000',borderWidth:0.8},z:1},
  pl('1M %',wti1M,'#7030a0'),pl('1 W %',wti1W,'#ffc000'),pl('1D %',wti1D,'#00b0f0'),pl('2W %',wti2W,'#ff0000')]});
chart(530,2817,523,319,{grid:{left:11,right:39,top:13,bottom:44},
 legend:legs([['Series3',91,12],['1M %',168,12],['1 W %',238,12],['1D %',311,12],['2W %',378,12]]),
 xAxis:catX(months28,0,90,9,vsplit),
 yAxis:valY(0.3,0.52,0.01,3,'right',false,{axisLine:{show:false},axisTick:{show:false}},9),
 series:[{name:'Series3',type:'bar',data:wtbBar,barWidth:10,itemStyle:{color:'#a5a5a5'},z:1},
  pl('1M %',wtb1M,'#ed7d31','#7030a0'),pl('1 W %',wtb1W,'#ffc000'),pl('1D %',wtb1D,'#00b0f0'),pl('2W %',wtb2W,'#ff0000')]});
// 11 Look back
const lbAxis=[];for(let d=new Date(2023,2,7);d<=new Date(2023,8,8);d.setDate(d.getDate()+1))lbAxis.push((d.getMonth()+1)+'/'+d.getDate()+'/'+d.getFullYear());
const pairs=a=>lbDates.map((d,i)=>[d+'/2023',a[i]]);
const ll=(n,a,c,w,t)=>({name:n,type:'line',data:pairs(a),symbol:'none',lineStyle:{color:c,width:w,type:t||'solid'},itemStyle:{color:c}});
chart(0,3176,1053,441,{grid:{left:52,right:56,top:13,bottom:62,show:true,borderColor:'#efdfb5',borderWidth:1},
 legend:legs([['2nd Mo',114,34],['Q423',220,34],['CAL23',314,34],['CAL24',411,34],['CAL25',508,34],['Winter 23-24',606,34],['Winter 24-25',737,34]],{w:35,fs:11}),
 xAxis:{type:'category',data:lbAxis,boundaryGap:false,axisLabel:Object.assign({},LBL,{interval:6,rotate:45,fontSize:10}),axisTick:{show:false},axisLine:{show:false}},
 yAxis:valY(0.5,1.0,0.05,5,'right',true),
 series:[ll('CAL25',lbCAL25,'#dae3f3',2),ll('Winter 24-25',lbW2425,'#8faadc',2,'dashed'),ll('CAL24',lbCAL24,'#b4c7e7',2),ll('CAL23',lbCAL23,'#8faadc',2),ll('Winter 23-24',lbW2324,'#2f5597',2,'dashed'),ll('Q423',lbQ423,'#2f5597',2),ll('2nd Mo',lb2ndMo,'#1f3864',3)]});
</script>
</body></html>
